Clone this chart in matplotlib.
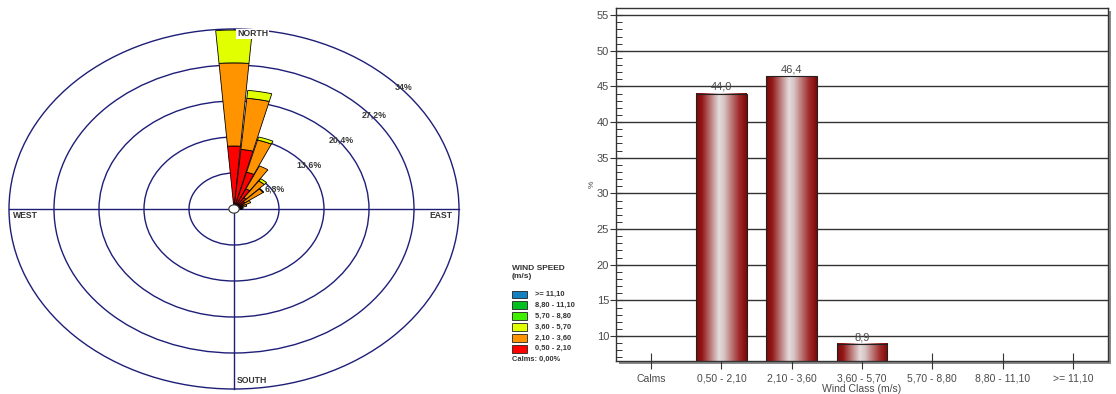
import numpy as np
import matplotlib
matplotlib.use('Agg')
import matplotlib.pyplot as plt
from matplotlib.patches import Wedge, Circle, Rectangle
from matplotlib.colors import LinearSegmentedColormap
from matplotlib.ticker import MultipleLocator

# ---------------- data ----------------
directions = [0, 10, 20, 30, 40, 50, 60, 70, 80, 90]          # degrees from north
speed_050_210 = [11.9, 11.3, 7.2, 4.2, 2.6, 2.0, 1.6, 1.3, 1.0, 0.9]
speed_210_360 = [15.7, 9.7, 6.3, 4.8, 3.9, 3.4, 1.2, 0.7, 0.4, 0.3]
speed_360_570 = [6.2, 1.5, 0.6, 0.0, 0.5, 0.1, 0.0, 0.0, 0.0, 0.0]

ring_values = [6.8, 13.6, 20.4, 27.2, 34.0]
ring_labels = ['6,8%', '13,6%', '20,4%', '27,2%', '34%']

legend_title = 'WIND SPEED\n(m/s)'
legend_labels = ['>= 11,10', '8,80 - 11,10', '5,70 - 8,80', '3,60 - 5,70', '2,10 - 3,60', '0,50 - 2,10']
calms_text = 'Calms: 0,00%'

wind_classes = ['Calms', '0,50 - 2,10', '2,10 - 3,60', '3,60 - 5,70', '5,70 - 8,80', '8,80 - 11,10', '>= 11,10']
class_freq = [0.0, 44.0, 46.4, 8.9, 0.0, 0.0, 0.0]
y_ticks = [10, 15, 20, 25, 30, 35, 40, 45, 50, 55]

# ---------------- style ----------------
W, H = 1116, 394
navy = '#1e1e78'
layer_colors = ['#ff0000', '#ff9400', '#e2ff00']
legend_colors = ['#1580c0', '#00c020', '#40f000', '#e2ff00', '#ff9400', '#ff0000']
txt_gray = '#4a4a4a'

fig = plt.figure(figsize=(W / 100, H / 100), dpi=100)

# overlay axes in pixel coordinates (legend, shadow)
ov = fig.add_axes([0, 0, 1, 1])
ov.set_xlim(0, W)
ov.set_ylim(H, 0)
ov.axis('off')

# ---------------- wind rose ----------------
cx, cy = 234, 209
kx, ky = 225 / 34.0, 180 / 34.0
ax = fig.add_axes([0, 0, 480 / W, 1])
ax.set_xlim(-cx / kx, (480 - cx) / kx)
ax.set_ylim(-(H - cy) / ky, cy / ky)
ax.axis('off')

for r in ring_values:
    ax.add_patch(Circle((0, 0), r, fill=False, ec=navy, lw=1.0, zorder=1))
rmax = ring_values[-1]
ax.plot([-rmax, rmax], [0, 0], color=navy, lw=1.0, zorder=1)
ax.plot([0, 0], [-rmax, rmax], color=navy, lw=1.0, zorder=1)

half_w = 4.7
layers = [speed_050_210, speed_210_360, speed_360_570]
for i, d in enumerate(directions):
    base = 0.0
    for vals, col in zip(layers, layer_colors):
        v = vals[i]
        if v <= 0:
            continue
        top = base + v
        ax.add_patch(Wedge((0, 0), top, 90 - d - half_w, 90 - d + half_w, width=v,
                           facecolor=col, edgecolor='black', lw=0.6, zorder=3))
        base = top

ax.add_patch(Circle((0, 0), 0.78, facecolor='white', edgecolor='#333333', lw=0.8, zorder=5))

label_angles = [59, 54, 51, 50, 48]
for r, lab, a in zip(ring_values, ring_labels, label_angles):
    rr = r + 0.4
    ax.text(rr * np.sin(np.radians(a)), rr * np.cos(np.radians(a)), lab,
            ha='center', va='center', fontsize=6.4, color='#3a3a3a',
            fontweight='bold', family='Liberation Sans', zorder=6)

cfont = dict(fontsize=6.2, color='#333333', fontweight='bold', family='Liberation Sans', zorder=7)
ax.text((237 - cx) / kx, (cy - 34) / ky, 'NORTH', ha='left', va='center',
        bbox=dict(facecolor='white', edgecolor='none', pad=0.6), **cfont)
ax.text((13 - cx) / kx, (cy - 216) / ky, 'WEST', ha='left', va='center', **cfont)
ax.text((453 - cx) / kx, (cy - 216) / ky, 'EAST', ha='right', va='center', **cfont)
ax.text((237 - cx) / kx, (cy - 380) / ky, 'SOUTH', ha='left', va='center', **cfont)

# ---------------- legend ----------------
ov.text(512, 272, legend_title, ha='left', va='center', fontsize=6.0, fontweight='bold',
        color='#333333', family='Liberation Sans', linespacing=1.2)
row_y = [294.3, 305.2, 316.1, 327.0, 337.9, 348.8]
for y, lab, col in zip(row_y, legend_labels, legend_colors):
    ov.add_patch(Rectangle((512, y - 3.8), 15, 7.6, facecolor=col, edgecolor='#222222', lw=0.6))
    ov.text(535, y, lab, ha='left', va='center', fontsize=5.4, color='#333333',
            family='Liberation Sans', fontweight='bold')
ov.text(512, 359.5, calms_text, ha='left', va='center', fontsize=5.4, color='#333333',
        family='Liberation Sans', fontweight='bold')

# ---------------- bar chart ----------------
L, R, T, B = 616, 1108, 8, 361
# shadow
ov.add_patch(Rectangle((L + 3, T + 3), R - L, B - T, facecolor='#8a8a8a', edgecolor='none'))

bx = fig.add_axes([L / W, 1 - B / H, (R - L) / W, (B - T) / H])
bx.set_facecolor('white')

grad_cmap = LinearSegmentedColormap.from_list('barg', [
    (0.0, '#7c0808'), (0.12, '#931818'), (0.45, '#e4dcdc'), (0.55, '#d8c4c4'),
    (0.85, '#a02a2a'), (1.0, '#7c0808')])
grad = np.linspace(0, 1, 256).reshape(1, -1)
bw = 0.72
xs = np.arange(len(wind_classes))
for x, v in zip(xs, class_freq):
    if v <= 0:
        continue
    bx.imshow(grad, cmap=grad_cmap, aspect='auto', extent=(x - bw / 2, x + bw / 2, 0, v),
              zorder=2, interpolation='bilinear')
    bx.bar(x, v, width=bw, fill=False, edgecolor='#222222', lw=0.8, zorder=3)
    bx.text(x, v + 0.25, f'{v:.1f}'.replace('.', ','), ha='center', va='bottom',
            fontsize=8, color=txt_gray, family='Liberation Sans', zorder=4)
bx.set_xlim(-0.5, len(wind_classes) - 0.5)
bx.set_ylim(6.5, 56)

bx.set_yticks(y_ticks)
bx.yaxis.set_minor_locator(MultipleLocator(1))
bx.yaxis.grid(True, which='major', color='#333333', lw=1.0, zorder=1)
bx.set_axisbelow(True)
bx.tick_params(axis='y', which='major', direction='inout', length=8, width=0.8,
               colors='#333333', labelcolor=txt_gray, labelsize=8, pad=1)
bx.tick_params(axis='y', which='minor', direction='in', length=4, width=0.7, colors='#333333')
bx.set_xticks(xs)
bx.set_xticklabels(wind_classes)
bx.tick_params(axis='x', direction='inout', length=12, width=0.8, colors='#333333',
               labelcolor=txt_gray, labelsize=7.5, pad=3)
for lab in bx.get_xticklabels() + bx.get_yticklabels():
    lab.set_family('Liberation Sans')
for sp in bx.spines.values():
    sp.set_color('#333333')
    sp.set_linewidth(1.0)

bx.set_xlabel('Wind Class (m/s)', fontsize=7.5, color=txt_gray, family='Liberation Sans', labelpad=0)
bx.set_ylabel('%', fontsize=6, color=txt_gray, family='Liberation Sans', rotation=90)
bx.yaxis.set_label_coords(-0.042, 0.5)

fig.savefig('out.png', dpi=100)
